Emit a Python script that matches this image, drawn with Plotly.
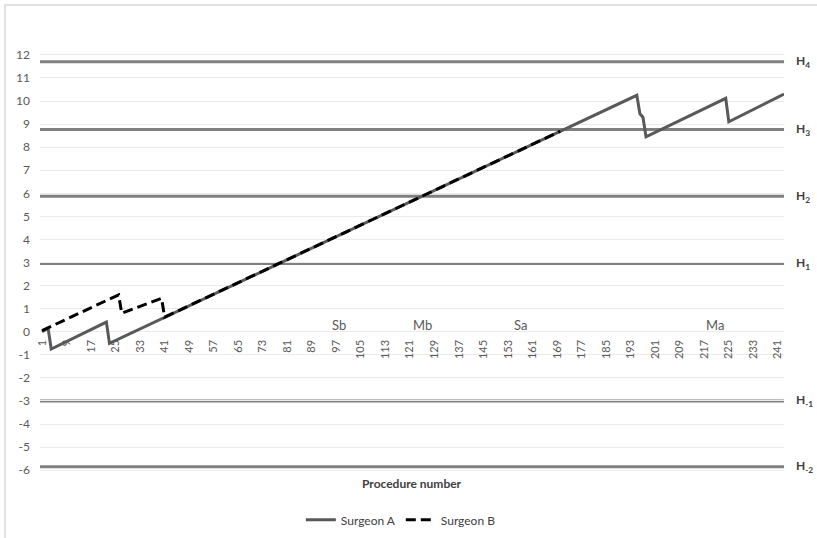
import plotly.graph_objects as go

# ---- data ----
# Surgeon A: vertices of the CUSUM line (procedure, score)
surgeonA_x = [1, 3, 4, 22, 23, 195, 196, 197, 198, 224, 225, 243]
surgeonA_y = [0.0, 0.15, -0.75, 0.42, -0.5, 10.25, 9.45, 9.3, 8.45, 10.12, 9.1, 10.3]

# Surgeon B: vertices (dashed), joins the A line after procedure 41
surgeonB_x = [1, 26, 27, 40, 41, 170]
surgeonB_y = [0.05, 1.6, 0.8, 1.45, 0.63, 8.69]

# decision limits
limit_names  = ["H<sub>4</sub>", "H<sub>3</sub>", "H<sub>2</sub>", "H<sub>1</sub>", "H<sub>-1</sub>", "H<sub>-2</sub>"]
limit_values = [11.7, 8.77, 5.87, 2.96, -3.0, -5.85]

# phase labels above the x axis
phase_names = ["Sb", "Mb", "Sa", "Ma"]
phase_x     = [98, 125, 157, 220.5]
phase_y     = [0.28, 0.28, 0.28, 0.28]

# axis ticks
x_ticks = list(range(1, 242, 8))
y_ticks = list(range(-6, 13))

x_range = [0.35, 243]
y_range = [-6.21, 12.3]

FONT  = "Lato"
GREY  = "#595959"

fig = go.Figure()

# limit lines
for val in limit_values:
    fig.add_hline(y=val, line=dict(color="#808080", width=3), layer="below")

fig.add_trace(go.Scatter(
    x=surgeonA_x, y=surgeonA_y,
    mode="lines", name="Surgeon A",
    line=dict(color="#595959", width=3)
))

fig.add_trace(go.Scatter(
    x=surgeonB_x, y=surgeonB_y,
    mode="lines", name="Surgeon B",
    line=dict(color="black", width=3, dash="10px,5px")
))

# H labels on the right
for name, val in zip(limit_names, limit_values):
    fig.add_annotation(
        x=1.013, xref="paper", y=val, yref="y",
        text="<b>" + name + "</b>", showarrow=False,
        xanchor="left", yanchor="middle",
        font=dict(family=FONT, size=12, color="#404040")
    )

# phase labels
for name, px, py in zip(phase_names, phase_x, phase_y):
    fig.add_annotation(
        x=px, y=py, text=name, showarrow=False,
        xanchor="center", yanchor="middle",
        font=dict(family=FONT, size=13, color=GREY)
    )

# x axis title (under the plot, axis itself sits at 0)
fig.add_annotation(
    x=0.5, xref="paper", y=-0.019, yref="paper",
    text="<b>Procedure number</b>", showarrow=False,
    xanchor="center", yanchor="middle",
    font=dict(family=FONT, size=12, color="#404040")
)

# chart area border
fig.add_shape(
    type="rect", xref="paper", yref="paper",
    x0=-0.047, y0=-0.3, x1=1.2, y1=1.1007,
    line=dict(color="#d9d9d9", width=1.5), fillcolor="rgba(0,0,0,0)"
)

zero_pos = (0 - y_range[0]) / (y_range[1] - y_range[0])

fig.update_layout(
    width=817, height=538,
    margin=dict(l=40, r=33, t=48, b=63, autoexpand=False),
    plot_bgcolor="white", paper_bgcolor="white",
    font=dict(family=FONT, color=GREY),
    xaxis=dict(
        range=x_range, tickvals=x_ticks, ticktext=[str(v) for v in x_ticks],
        tickangle=-90, tickfont=dict(size=11, color=GREY),
        showgrid=False, zeroline=False, showline=False, ticks="",
        anchor="free", position=zero_pos, ticklabelstandoff=5
    ),
    yaxis=dict(
        range=y_range, tickvals=y_ticks, ticktext=[str(v) for v in y_ticks],
        tickfont=dict(size=12, color=GREY),
        showgrid=True, gridcolor="#ebebeb", gridwidth=1,
        zeroline=False, showline=False, ticks="", ticklabelstandoff=9
    ),
    legend=dict(
        orientation="h", x=0.485, xanchor="center", y=-0.105, yanchor="middle",
        font=dict(family=FONT, size=12, color="#404040"),
        itemwidth=30
    ),
    showlegend=True
)

# drop the default page margin so the figure sits at the window's corner
fig.write_html("out.html", config={"displayModeBar": False},
               post_script="document.body.style.margin='0px';")
